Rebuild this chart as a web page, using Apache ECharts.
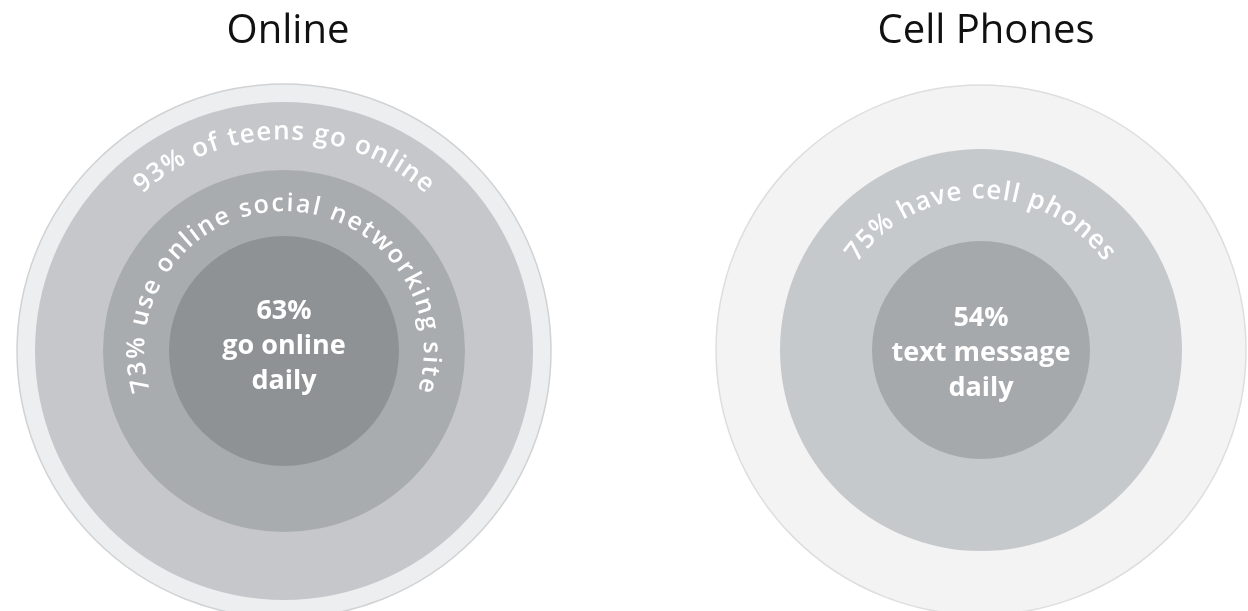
<!DOCTYPE html>
<html><head><meta charset="utf-8">
<script src="https://cdn.jsdelivr.net/npm/echarts@6/dist/echarts.min.js"></script>
<style>html,body{margin:0;padding:0;background:#fff}#c{width:1248px;height:611px}</style>
</head><body><div id="c"></div>
<script>
// ---- data ----
const panelTitles = ['Online', 'Cell Phones'];
const onlineCategories = ['All teens', 'Go online', 'Use social networking site', 'Go online daily'];
const onlineValues = [100, 93, 73, 63];
const onlineLabels = ['', '93% of teens go online', '73% use online social networking site', '63%\ngo online\ndaily'];
const phoneCategories = ['All teens', 'Have cell phones', 'Text message daily'];
const phoneValues = [100, 75, 54];
const phoneLabels = ['', '75% have cell phones', '54%\ntext message\ndaily'];

// ---- layout / style ----
const FONT = '"Open Sans", "Noto Sans", sans-serif';
const layout = [
  { titleX: 283, cx: 284, cy: 351, labelDy: -5,
    radii: [267, 249, 181, 115],
    colors: ['#edeeef', '#c5c7ca', '#a9acaf', '#8f9295'],
    borders: ['#d0d2d4', null, null, null],
    arcs: [null, { r: 219, span: 80, size: 26 }, { r: 147, span: 207, size: 25 }, null],
    categories: onlineCategories, values: onlineValues, labels: onlineLabels },
  { titleX: 981, cx: 981, cy: 350, labelDy: 3,
    radii: [265, 201, 109],
    colors: ['#f3f3f3', '#c6c9cc', '#a6a9ac'],
    borders: ['#dedede', null, null],
    arcs: [null, { r: 159, span: 104, size: 26 }, null],
    categories: phoneCategories, values: phoneValues, labels: phoneLabels }
];

const measureCtx = document.createElement('canvas').getContext('2d');

function arcText(text, cx, cy, arc, z) {
  const font = `600 ${arc.size}px ${FONT}`;
  measureCtx.font = font;
  const chars = Array.from(text);
  const w = chars.map(c => measureCtx.measureText(c).width);
  const n = chars.length;
  let natural = 0;
  for (let i = 0; i < n; i++) natural += w[i];
  natural -= (w[0] + w[n - 1]) / 2;
  const target = arc.r * arc.span * Math.PI / 180;
  const extra = (target - natural) / (n - 1);
  const els = [];
  let s = 0;
  for (let i = 0; i < n; i++) {
    if (i > 0) s += w[i - 1] / 2 + w[i] / 2 + extra;
    const theta = (s - target / 2) / arc.r;
    if (chars[i] === ' ') continue;
    els.push({
      type: 'text', silent: true, z: z,
      x: cx + arc.r * Math.sin(theta),
      y: cy - arc.r * Math.cos(theta),
      rotation: -theta,
      style: { text: chars[i], fill: '#ffffff', font: font,
        textAlign: 'center', textVerticalAlign: 'middle',
        align: 'center', verticalAlign: 'middle' }
    });
  }
  return els;
}

const series = [];
const graphics = [];
layout.forEach((p, pi) => {
  p.values.forEach((v, i) => {
    const last = i === p.values.length - 1;
    series.push({
      type: 'pie', silent: true, animation: false,
      center: [p.cx, p.cy], radius: [0, p.radii[i]],
      z: 2 + i, zlevel: 0,
      label: last ? { show: true, position: 'center', formatter: p.labels[i], offset: [0, p.labelDy],
        color: '#ffffff', fontSize: 27, fontWeight: 'bold', lineHeight: 35, fontFamily: FONT } : { show: false },
      labelLine: { show: false },
      emphasis: { disabled: true },
      itemStyle: { color: p.colors[i], borderColor: p.borders[i] || p.colors[i], borderWidth: p.borders[i] ? 1.5 : 0 },
      data: [{ name: p.categories[i], value: v }]
    });
    if (p.arcs[i]) graphics.push(...arcText(p.labels[i], p.cx, p.cy, p.arcs[i], 100));
  });
});

const chart = echarts.init(document.getElementById('c'), null, { renderer: 'canvas' });
chart.setOption({
  backgroundColor: '#ffffff',
  animation: false,
  title: panelTitles.map((t, i) => ({
    text: t, left: layout[i].titleX, top: 7, textAlign: 'center',
    textStyle: { fontSize: 40, fontWeight: 'normal', color: '#111', fontFamily: FONT }
  })),
  series: series,
  graphic: graphics
});
</script></body></html>
